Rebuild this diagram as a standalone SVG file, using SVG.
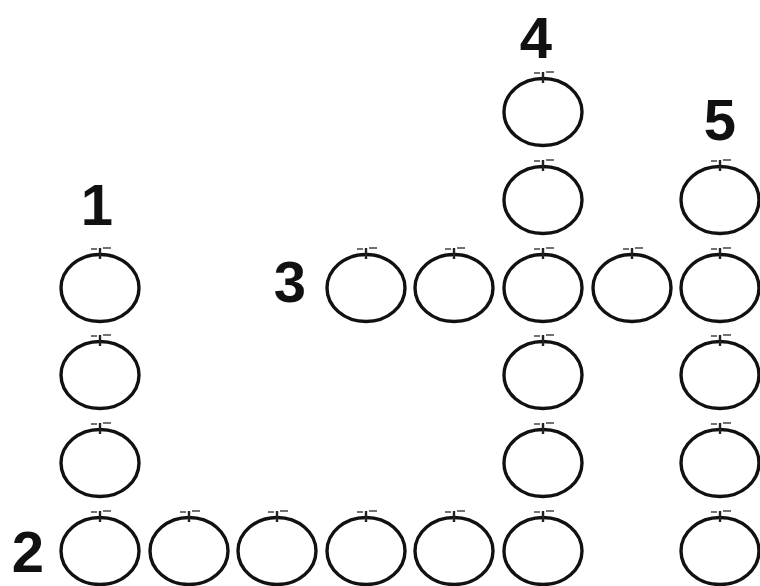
<svg xmlns="http://www.w3.org/2000/svg" xmlns:xlink="http://www.w3.org/1999/xlink" width="760" height="586" viewBox="0 0 760 586">
<style>
.ring{fill:none;stroke:#111;stroke-width:3.4}
.stem{fill:none;stroke:#222;stroke-width:2.4}
.leaf{fill:none;stroke:#444;stroke-width:1.4}
.num{font-family:"Liberation Sans",Arial,sans-serif;font-weight:bold;font-size:58px;fill:#111;text-anchor:middle}
</style>
<defs>
<g id="apple">
<ellipse class="ring" cx="0" cy="0" rx="39" ry="33.5"/>
<path class="stem" d="M0,-40 V-29"/>
<path class="leaf" d="M-9,-39 H-3 M3,-40 H11"/>
</g>
</defs>
<rect width="760" height="586" fill="#fff"/>
<g id="labels">
<text class="num" x="97" y="225">1</text>
<text class="num" x="28" y="572">2</text>
<text class="num" x="290" y="302">3</text>
<text class="num" x="536" y="58">4</text>
<text class="num" x="720" y="140">5</text>
</g>
<g id="connectors"></g>
<g id="nodes">
<g id="w1-a"><use xlink:href="#apple" x="100" y="288"/></g>
<g id="w1-b"><use xlink:href="#apple" x="100" y="375"/></g>
<g id="w1-c"><use xlink:href="#apple" x="100" y="463"/></g>
<g id="w2-a"><use xlink:href="#apple" x="100" y="551"/></g>
<g id="w2-b"><use xlink:href="#apple" x="189" y="551"/></g>
<g id="w2-c"><use xlink:href="#apple" x="277" y="551"/></g>
<g id="w2-d"><use xlink:href="#apple" x="366" y="551"/></g>
<g id="w2-e"><use xlink:href="#apple" x="454" y="551"/></g>
<g id="w2-f"><use xlink:href="#apple" x="543" y="551"/></g>
<g id="w3-a"><use xlink:href="#apple" x="366" y="288"/></g>
<g id="w3-b"><use xlink:href="#apple" x="454" y="288"/></g>
<g id="w3-c"><use xlink:href="#apple" x="543" y="288"/></g>
<g id="w3-d"><use xlink:href="#apple" x="632" y="288"/></g>
<g id="w3-e"><use xlink:href="#apple" x="720" y="288"/></g>
<g id="w4-a"><use xlink:href="#apple" x="543" y="112"/></g>
<g id="w4-b"><use xlink:href="#apple" x="543" y="200"/></g>
<g id="w4-d"><use xlink:href="#apple" x="543" y="375"/></g>
<g id="w4-e"><use xlink:href="#apple" x="543" y="463"/></g>
<g id="w5-a"><use xlink:href="#apple" x="720" y="200"/></g>
<g id="w5-c"><use xlink:href="#apple" x="720" y="375"/></g>
<g id="w5-d"><use xlink:href="#apple" x="720" y="463"/></g>
<g id="w5-e"><use xlink:href="#apple" x="720" y="551"/></g>
</g>
</svg>
